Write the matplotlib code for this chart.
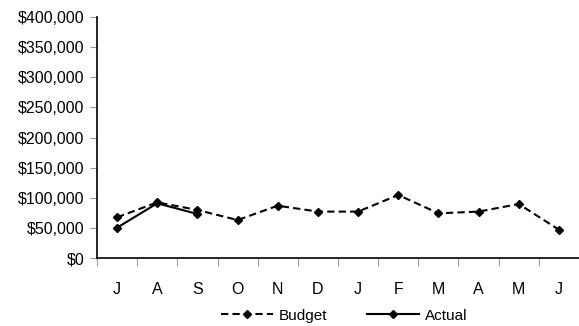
import matplotlib.pyplot as plt
from matplotlib.ticker import FuncFormatter

plt.rcParams['font.family'] = ['Liberation Sans', 'DejaVu Sans']

months = ['J', 'A', 'S', 'O', 'N', 'D', 'J', 'F', 'M', 'A', 'M', 'J']
budget = [67500, 92400, 79700, 63000, 86800, 77000, 77000, 104600, 74200, 77000, 89600, 47000]
actual = [50300, 90800, 73000]

fig = plt.figure(figsize=(5.79, 3.26), dpi=100)
ax = fig.add_axes([97 / 579, 1 - 258 / 326, 482 / 579, 241 / 326])

x = list(range(len(months)))
ax.plot(x, budget, color='black', linestyle=(0, (3.5, 2)), linewidth=1.5,
        marker='D', markersize=4.5, label='Budget')
ax.plot(x[:len(actual)], actual, color='black', linestyle='-', linewidth=1.5,
        marker='D', markersize=4.5, label='Actual')

ax.set_xlim(-0.5, len(months) - 0.5)
ax.set_ylim(0, 400000)
ax.set_yticks(range(0, 400001, 50000))
ax.yaxis.set_major_formatter(FuncFormatter(lambda v, p: f'${v:,.0f}'))

# group ticks between months, labels centred on months
ax.set_xticks([i - 0.5 for i in range(len(months))])
ax.set_xticklabels([])
ax.set_xticks(x, minor=True)
ax.set_xticklabels(months, minor=True)
ax.tick_params(axis='x', which='major', length=6, color='#999999', direction='out')
ax.tick_params(axis='x', which='minor', length=0, pad=17, labelsize=11.5)
ax.tick_params(axis='y', length=5, color='#999999', labelsize=11.5, pad=4)

for s in ['top', 'right']:
    ax.spines[s].set_visible(False)
ax.spines['left'].set_linewidth(1.2)
ax.spines['bottom'].set_linewidth(1.2)

fig.legend(loc='lower center', ncol=2, frameon=False, fontsize=11,
           bbox_to_anchor=(0.595, -0.032), handlelength=3.4, handletextpad=0.4,
           columnspacing=2.6)

fig.savefig('out.png', dpi=100)
